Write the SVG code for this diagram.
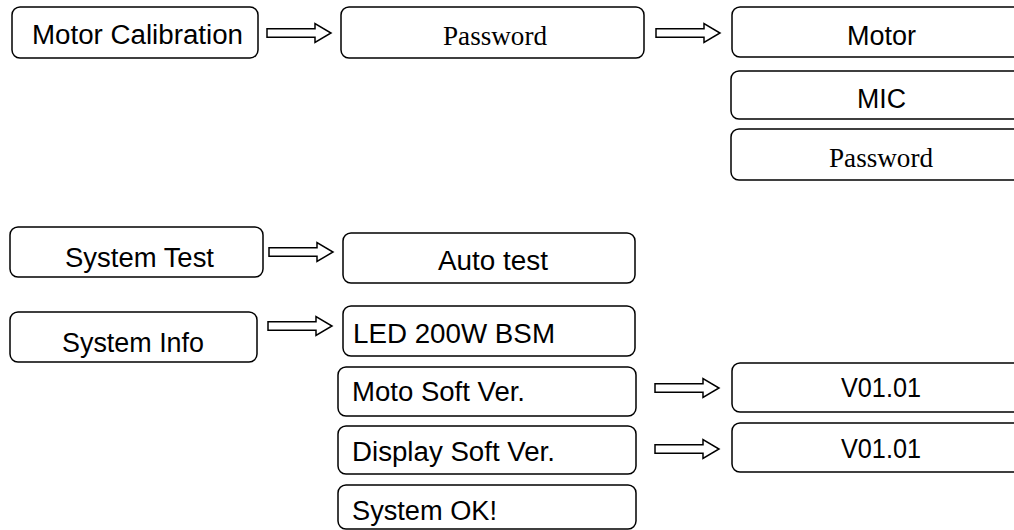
<svg xmlns="http://www.w3.org/2000/svg" width="1014" height="530" viewBox="0 0 1014 530">
<defs>
<style>
.box{fill:#fff;stroke:#000;stroke-width:1.5}
.t{font-family:"Liberation Sans",Arial,sans-serif;font-size:27px;fill:#000}
.tr{font-family:"Liberation Serif","Times New Roman",serif;font-size:27px;fill:#000}
.arr{fill:#fff;stroke:#000;stroke-width:1.5;stroke-linejoin:miter}
</style>
<path id="arrow" d="M0,-4.2 H48 V-9.5 L64,0 L48,9.5 V4.2 H0 Z"/>
</defs>
<rect width="1014" height="530" fill="#fff"/>
<g id="connectors">
<use href="#arrow" class="arr" transform="translate(267,33)"/>
<use href="#arrow" class="arr" transform="translate(656,33)"/>
<use href="#arrow" class="arr" transform="translate(269,252)"/>
<use href="#arrow" class="arr" transform="translate(268,326)"/>
<use href="#arrow" class="arr" transform="translate(655,388)"/>
<use href="#arrow" class="arr" transform="translate(655,449)"/>
</g>
<g id="motor-calibration"><rect class="box" x="12" y="7" width="246" height="51" rx="8"/><text class="t" x="32" y="44" textLength="211" lengthAdjust="spacingAndGlyphs">Motor Calibration</text></g>
<g id="password"><rect class="box" x="341" y="7" width="303" height="51" rx="8"/><text class="tr" x="443" y="45" textLength="104" lengthAdjust="spacingAndGlyphs">Password</text></g>
<g id="motor"><rect class="box" x="732" y="7" width="300" height="50" rx="8"/><text class="t" x="847" y="45" textLength="69" lengthAdjust="spacingAndGlyphs">Motor</text></g>
<g id="mic"><rect class="box" x="731" y="71" width="300" height="48" rx="8"/><text class="t" x="857" y="108" textLength="49" lengthAdjust="spacingAndGlyphs">MIC</text></g>
<g id="password2"><rect class="box" x="731" y="129" width="300" height="51" rx="8"/><text class="tr" x="829" y="166.5" textLength="104" lengthAdjust="spacingAndGlyphs">Password</text></g>
<g id="system-test"><rect class="box" x="10" y="227" width="253" height="50" rx="8"/><text class="t" x="65" y="266.5" textLength="149" lengthAdjust="spacingAndGlyphs">System Test</text></g>
<g id="auto-test"><rect class="box" x="343" y="233" width="292" height="50" rx="8"/><text class="t" x="438" y="270" textLength="110" lengthAdjust="spacingAndGlyphs">Auto test</text></g>
<g id="system-info"><rect class="box" x="10" y="312" width="247" height="50" rx="8"/><text class="t" x="62" y="351.5" textLength="142" lengthAdjust="spacingAndGlyphs">System Info</text></g>
<g id="led"><rect class="box" x="343" y="306" width="292" height="50" rx="8"/><text class="t" x="353" y="343" textLength="202" lengthAdjust="spacingAndGlyphs">LED 200W BSM</text></g>
<g id="moto-soft"><rect class="box" x="338" y="367" width="298" height="49" rx="8"/><text class="t" x="352" y="401" textLength="173" lengthAdjust="spacingAndGlyphs">Moto Soft Ver.</text></g>
<g id="moto-ver"><rect class="box" x="732" y="363" width="300" height="49" rx="8"/><text class="t" x="841" y="397" textLength="80" lengthAdjust="spacingAndGlyphs">V01.01</text></g>
<g id="display-soft"><rect class="box" x="338" y="426" width="298" height="48" rx="8"/><text class="t" x="352" y="461" textLength="203" lengthAdjust="spacingAndGlyphs">Display Soft Ver.</text></g>
<g id="display-ver"><rect class="box" x="732" y="423" width="300" height="49" rx="8"/><text class="t" x="841" y="458" textLength="80" lengthAdjust="spacingAndGlyphs">V01.01</text></g>
<g id="system-ok"><rect class="box" x="338" y="485" width="298" height="44" rx="8"/><text class="t" x="352" y="520" textLength="145" lengthAdjust="spacingAndGlyphs">System OK!</text></g>
</svg>
